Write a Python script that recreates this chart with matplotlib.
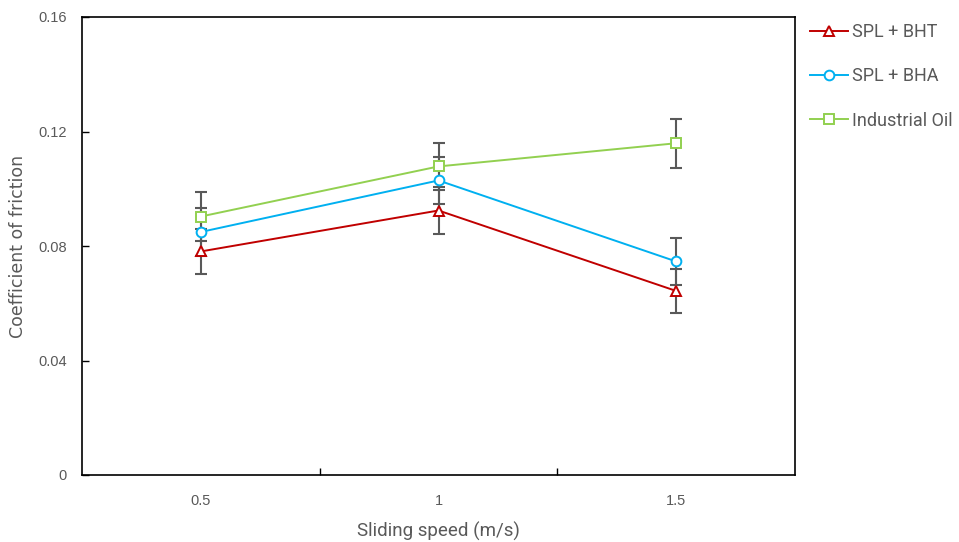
import numpy as np
import matplotlib
matplotlib.use('Agg')
import matplotlib.pyplot as plt

speeds = ['0.5', '1', '1.5']
bht = [0.0781, 0.0924, 0.0643]
bht_err = [0.0078, 0.0081, 0.0078]
bha = [0.0849, 0.1029, 0.0746]
bha_err = [0.0083, 0.0082, 0.0083]
oil = [0.0903, 0.1078, 0.1159]
oil_err = [0.0085, 0.0082, 0.0086]

labels = ['SPL + BHT', 'SPL + BHA', 'Industrial Oil']
colors = ['#C00000', '#00B0F0', '#92D050']
markers = ['^', 'o', 's']

fig = plt.figure(figsize=(9.59, 5.42), dpi=100)
ax = fig.add_axes([82/959, 67/542, 713/959, 458/542])

x = np.arange(len(speeds)) + 0.5
series = [(bht, bht_err), (bha, bha_err), (oil, oil_err)]
for (y, err), lab, c, m in zip(series, labels, colors, markers):
    ax.errorbar(x, y, yerr=err, fmt='none', ecolor='#595959', elinewidth=1.5,
                capsize=4, capthick=1.5, zorder=2)
    ax.plot(x, y, color=c, lw=1.4, marker=m, markersize=7, markerfacecolor='white',
            markeredgecolor=c, markeredgewidth=1.4, label=lab, zorder=3)

ax.set_xlim(0, 3)
ax.set_ylim(0, 0.16)
ax.set_xticks(x)
ax.set_xticklabels(speeds)
ax.set_xticks([1, 2], minor=True)
ax.set_yticks([0, 0.04, 0.08, 0.12, 0.16])
ax.set_yticklabels(['0', '0.04', '0.08', '0.12', '0.16'])
ax.tick_params(axis='x', which='major', length=0, pad=13.5)
ax.tick_params(axis='x', which='minor', direction='in', length=5, width=1, color='black')
ax.tick_params(axis='y', direction='in', length=5, width=1, pad=11)
ax.tick_params(labelsize=10.5, labelcolor='#595959')
for t in ax.get_xticklabels() + ax.get_yticklabels():
    t.set_family('Liberation Sans')
for s in ax.spines.values():
    s.set_linewidth(1.2)
    s.set_color('black')

ax.set_xlabel('Sliding speed (m/s)', family='Roboto', fontsize=13.5, color='#595959', labelpad=10)
ax.set_ylabel('Coefficient of friction', family='DejaVu Sans', fontsize=12.5, color='#595959', labelpad=8)

fig.legend(loc='upper left', bbox_to_anchor=(794/959, 1 - 7/542), frameon=False,
           prop={'family': 'Roboto', 'size': 13}, labelspacing=1.45, handlelength=2.1,
           handletextpad=0.2, labelcolor='#595959')

fig.savefig('out.png', dpi=100)
